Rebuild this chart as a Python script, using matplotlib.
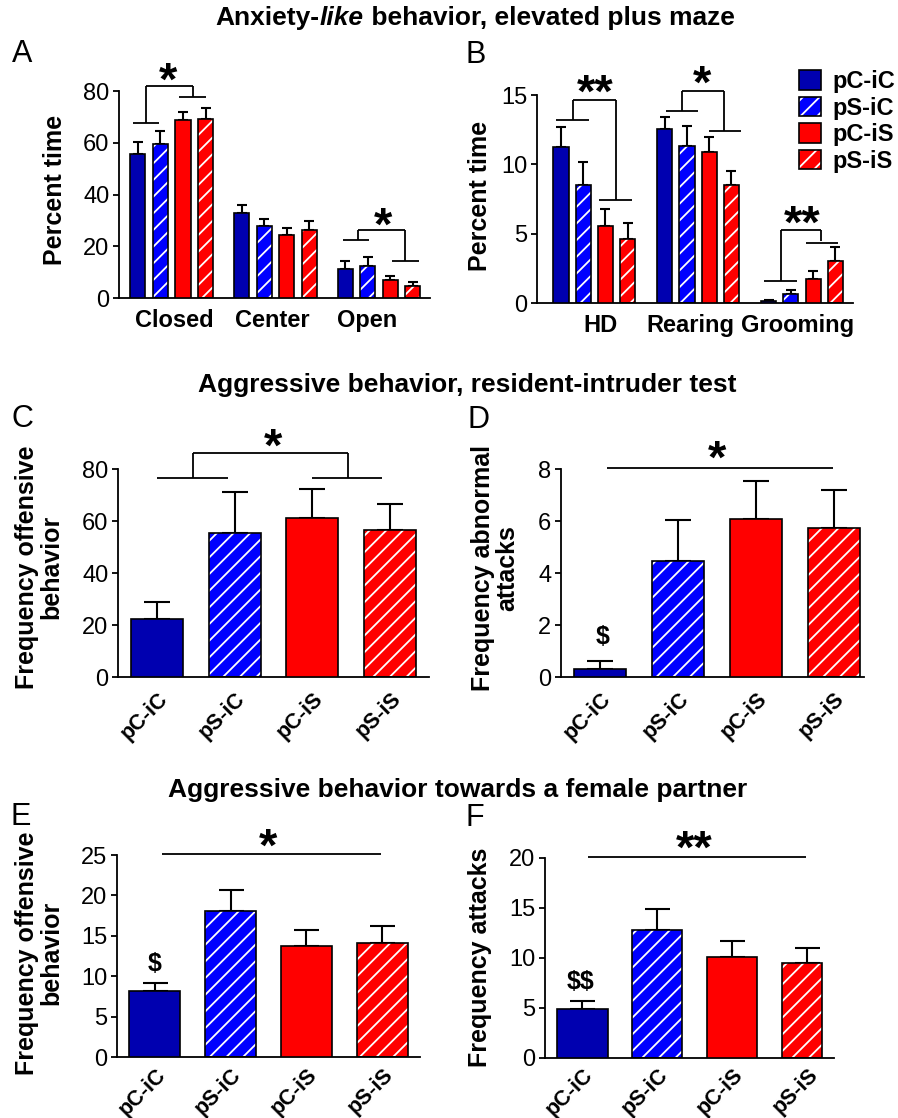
import numpy as np
import matplotlib
matplotlib.use('Agg')
import matplotlib.pyplot as plt
from matplotlib.patches import Patch
from matplotlib.legend_handler import HandlerTuple

plt.rcParams['font.family'] = ['Liberation Sans', 'DejaVu Sans']
plt.rcParams['hatch.linewidth'] = 1.3

W, H = 898, 1118

# === Data ===
groups = ['pC-iC', 'pS-iC', 'pC-iS', 'pS-iS']
face = ['#0000B0', '#0000FF', '#FF0000', '#FF0000']
hatched = [False, True, False, True]

# A - elevated plus maze, percent time in arm
a_cats = ['Closed', 'Center', 'Open']
a_means = [[55.8, 59.7, 68.7, 69.2], [32.9, 28.0, 24.4, 26.2], [11.2, 12.4, 7.0, 4.8]]
a_errs = [[4.5, 4.7, 3.2, 4.4], [3.2, 2.5, 2.7, 3.4], [3.0, 3.5, 1.5, 1.4]]

# B - elevated plus maze, behaviours
b_cats = ['HD', 'Rearing', 'Grooming']
b_means = [[11.28, 8.54, 5.57, 4.63], [12.54, 11.33, 10.9, 8.54], [0.14, 0.65, 1.71, 3.06]]
b_errs = [[1.38, 1.66, 1.18, 1.11], [0.89, 1.40, 1.04, 0.98], [0.10, 0.29, 0.63, 0.97]]

# C/D - resident-intruder
c_means = [22.3, 55.2, 61.3, 56.7]
c_errs = [6.5, 15.9, 11.1, 9.9]
d_means = [0.31, 4.45, 6.07, 5.72]
d_errs = [0.29, 1.58, 1.48, 1.47]

# E/F - female partner
e_means = [8.14, 18.06, 13.76, 14.17]
e_errs = [1.06, 2.60, 1.94, 2.03]
f_means = [4.88, 12.81, 10.13, 9.53]
f_errs = [0.87, 2.11, 1.54, 1.51]

TICK_FS = 17
ROT_FS = 15.5
LAB_FS = 18
STAR_FS = 34

fig = plt.figure(figsize=(W / 100, H / 100), dpi=100)


def add_axes_px(x0, x1, ytop, ybot):
    return fig.add_axes([x0 / W, 1 - ybot / H, (x1 - x0) / W, (ybot - ytop) / H])


def style_axes(ax, yticks, ylim, xlim):
    ax.set_ylim(*ylim)
    ax.set_xlim(*xlim)
    ax.set_yticks(yticks)
    for s in ['top', 'right']:
        ax.spines[s].set_visible(False)
    for s in ['left', 'bottom']:
        ax.spines[s].set_linewidth(1.3)
    ax.tick_params(axis='y', labelsize=TICK_FS, length=4, width=1.3, pad=3)
    ax.tick_params(axis='x', length=0)


def draw_bars(ax, xs, means, errs, width, capsize, widths=None):
    for k, (x, m, e) in enumerate(zip(xs, means, errs)):
        i = k % 4
        w = width if widths is None else widths[k]
        ax.errorbar(x, m, yerr=[[0], [e]], fmt='none', ecolor='k', elinewidth=1.5,
                    capsize=capsize, capthick=1.5, zorder=1)
        left = x - width / 2
        if hatched[i]:
            ax.bar(left, m, w, align='edge', color=face[i], edgecolor='white',
                   hatch='//', linewidth=0, zorder=2)
            ax.bar(left, m, w, align='edge', fill=False, edgecolor='k', linewidth=1.2, zorder=3)
        else:
            ax.bar(left, m, w, align='edge', color=face[i], edgecolor='k', linewidth=1.2, zorder=3)


def lines(ax, segs):
    for x0, x1, y0, y1 in segs:
        ax.plot([x0, x1], [y0, y1], color='k', lw=1.3, clip_on=False, solid_capstyle='butt')


def star(ax, x, y, s):
    # y is where the middle of the asterisk ink should sit
    ax.annotate(s, (x, y), xytext=(0, -0.38 * STAR_FS * 100 / 72), textcoords='offset pixels',
                ha='center', va='baseline', fontsize=STAR_FS, fontweight='bold',
                annotation_clip=False)


def rot_labels(ax, pad=8.5):
    ax.set_xticks(range(4))
    ax.set_xticklabels(groups, rotation=45, ha='right', va='top', rotation_mode='anchor',
                       fontsize=ROT_FS, fontweight='bold')
    ax.tick_params(axis='x', pad=pad)


# === Panel A ===
axA = add_axes_px(119, 430, 91, 298)
gsA = 4.6
xsA = [g * gsA + i for g in range(3) for i in range(4)]
draw_bars(axA, xsA, sum(a_means, []), sum(a_errs, []), 0.67, 3.4)
style_axes(axA, [0, 20, 40, 60, 80], (0, 80), (-0.84, 12.96))
axA.set_xticks([1.6, 5.98, 10.18])
axA.set_xticklabels(a_cats, fontsize=TICK_FS, fontweight='bold')
axA.tick_params(axis='x', pad=8)
lines(axA, [(-0.22, 0.94, 67.7, 67.7), (1.83, 3.03, 77.7, 77.7),
            (0.36, 0.36, 67.7, 81.8), (0.36, 2.45, 81.8, 81.8), (2.45, 2.45, 81.8, 77.7)])
star(axA, 1.34, 85.5, '*')
lines(axA, [(9.12, 10.27, 22.3, 22.3), (11.29, 12.45, 14.2, 14.2),
            (9.78, 9.78, 22.3, 26.4), (9.78, 11.83, 26.4, 26.4), (11.83, 11.83, 26.4, 14.2)])
star(axA, 10.89, 29.6, '*')

# === Panel B ===
axB = add_axes_px(537, 853, 95, 303)
gsB = 4.68
xsB = [g * gsB + i for g in range(3) for i in range(4)]
draw_bars(axB, xsB, sum(b_means, []), sum(b_errs, []), 0.68, 3.4)
style_axes(axB, [0, 5, 10, 15], (0, 15), (-1.08, 13.16))
axB.set_xticks([1.77, 5.82, 10.64])
axB.set_xticklabels(b_cats, fontsize=TICK_FS, fontweight='bold')
axB.tick_params(axis='x', pad=8)
lines(axB, [(-0.21, 1.28, 13.17, 13.17), (1.73, 3.21, 7.43, 7.43),
            (0.56, 0.56, 13.17, 14.64), (0.56, 2.49, 14.64, 14.64), (2.49, 2.49, 14.64, 7.43)])
star(axB, 1.55, 15.46, '**')
lines(axB, [(4.74, 6.18, 13.82, 13.82), (6.69, 8.13, 12.39, 12.39),
            (5.47, 5.47, 13.82, 15.31), (5.47, 7.36, 15.31, 15.31), (7.36, 7.36, 15.31, 12.39)])
star(axB, 6.37, 16.07, '*')
lines(axB, [(9.17, 10.64, 1.59, 1.59), (11.05, 12.49, 4.36, 4.36),
            (9.93, 9.93, 1.59, 5.26), (9.93, 11.73, 5.26, 5.26), (11.73, 11.73, 5.26, 4.5)])
star(axB, 10.87, 5.98, '**')

handles = []
for i in range(4):
    if hatched[i]:
        handles.append((Patch(facecolor=face[i], edgecolor='white', hatch='//', linewidth=0),
                        Patch(fill=False, edgecolor='k', linewidth=1.2)))
    else:
        handles.append(Patch(facecolor=face[i], edgecolor='k', linewidth=1.2))
leg = axB.legend(handles, groups, handler_map={tuple: HandlerTuple(ndivide=1)},
                 loc='upper left', bbox_to_anchor=(799 / W, 1 - 70 / H),
                 bbox_transform=fig.transFigure, frameon=False, borderpad=0, borderaxespad=0,
                 handlelength=0.93, handleheight=0.9, handletextpad=0.5, labelspacing=0.15,
                 prop={'size': TICK_FS, 'weight': 'bold'})

# === Panel C ===
axC = add_axes_px(118, 429, 469, 677)
draw_bars(axC, range(4), c_means, c_errs, 0.67, 9.4)
style_axes(axC, [0, 20, 40, 60, 80], (0, 80), (-0.5, 3.5))
rot_labels(axC)
lines(axC, [(0, 0.91, 76.7, 76.7), (1.99, 2.9, 76.7, 76.7),
            (0.47, 0.47, 76.7, 86.0), (0.47, 2.46, 86.0, 86.0), (2.46, 2.46, 86.0, 76.7)])
star(axC, 1.5, 90.0, '*')

# === Panel D ===
axD = add_axes_px(561, 864, 469, 677)
draw_bars(axD, range(4), d_means, d_errs, 0.67, 9.4)
style_axes(axD, [0, 2, 4, 6, 8], (0, 8), (-0.5, 3.385))
rot_labels(axD)
lines(axD, [(0.09, 2.99, 8.03, 8.03)])
star(axD, 1.5, 8.55, '*')
axD.text(0.03, 1.54, '$', ha='center', va='center', fontsize=LAB_FS, fontweight='bold', parse_math=False)

# === Panel E ===
axE = add_axes_px(117, 420, 855, 1057)
draw_bars(axE, range(4), e_means, e_errs, 0.67, 9.0)
style_axes(axE, [0, 5, 10, 15, 20, 25], (0, 25), (-0.5, 3.5))
rot_labels(axE, pad=5.5)
lines(axE, [(0.1, 2.98, 25.1, 25.1)])
star(axE, 1.5, 26.55, '*')
axE.text(0.0, 11.57, '$', ha='center', va='center', fontsize=LAB_FS, fontweight='bold', parse_math=False)

# === Panel F ===
axF = add_axes_px(545, 834, 858, 1058)
draw_bars(axF, range(4), f_means, f_errs, 0.67, 9.0, widths=[0.67, 0.67, 0.67, 0.54])
style_axes(axF, [0, 5, 10, 15, 20], (0, 20), (-0.5, 3.36))
rot_labels(axF, pad=4.5)
lines(axF, [(0.08, 2.99, 20.1, 20.1)])
star(axF, 1.5, 21.28, '**')
axF.text(-0.02, 7.63, '$$', ha='center', va='center', fontsize=LAB_FS, fontweight='bold', parse_math=False)

# === Axis labels ===
ylabels = [(55, 190, 'Percent time'), (480, 196, 'Percent time'),
           (39, 567, 'Frequency offensive\nbehavior'), (495, 568, 'Frequency abnormal\nattacks'),
           (39, 953, 'Frequency offensive\nbehavior'), (480, 957, 'Frequency attacks')]
for x, y, t in ylabels:
    fig.text(x / W, 1 - y / H, t, rotation=90, ha='center', va='center', ma='center',
             fontsize=LAB_FS, fontweight='bold', linespacing=1.0)

# === Panel letters ===
for x, y, t in [(22, 54, 'A'), (476, 55, 'B'), (22, 419, 'C'), (478, 420, 'D'),
                (21, 817, 'E'), (475, 818, 'F')]:
    fig.text(x / W, 1 - y / H, t, ha='center', va='center', fontsize=22)

# === Section titles ===
renderer = fig.canvas.get_renderer()


def title(xc, y, parts):
    texts = [fig.text(0, 1 - y / H, s, fontsize=19, fontweight='bold', style=st, va='center')
             for s, st in parts]
    widths = [t.get_window_extent(renderer).width for t in texts]
    x = xc - sum(widths) / 2
    for t, w in zip(texts, widths):
        t.set_x(x / W)
        x += w


title(475, 18, [('Anxiety-', 'normal'), ('like', 'italic'), (' behavior, elevated plus maze', 'normal')])
title(467, 385, [('Aggressive behavior, resident-intruder test', 'normal')])
title(458, 790, [('Aggressive behavior towards a female partner', 'normal')])

fig.savefig('out.png', dpi=100)
